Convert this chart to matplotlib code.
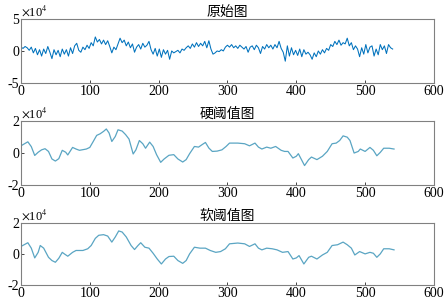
import numpy as np
import matplotlib
matplotlib.use('Agg')
import matplotlib.pyplot as plt

# original signal, read every 3 samples (units of 1e4)
raw_step = 3
raw_vals = [0.6, 0.4, 0.7, 0.5, 0.1, 0.6, -0.3, 0.4, -0.6, 0.2,
            -0.8, 0.3, -0.4, 0.7, -0.2, -1.2, 0.2, -0.6, 0.1, -0.9,
            0.3, -0.5, 0.2, -0.8, 0.5, -0.4, 0.8, 1.2, 0.1, -0.2,
            0.6, 0.2, 0.9, 0.4, 1.3, 0.8, 2.2, 1.4, 1.8, 1.1,
            1.7, 1.0, 1.6, 0.7, -0.3, 0.6, 0.2, 1.1, 2.0, 1.3,
            1.7, 0.8, 1.4, 0.5, 1.1, -0.2, 0.6, 1.0, 0.3, 1.2,
            0.6, 0.9, 1.5, 0.2, -0.5, 0.4, -0.8, 0.3, -1.0, 0.2,
            -0.5, 0.1, -1.3, 0.0, -0.3, -0.1, 0.1, -0.3, 0.3, 0.1,
            0.5, 0.8, 0.4, 1.1, 0.6, 1.3, 0.7, 1.2, 0.8, 1.5,
            0.5, 1.6, 0.3, -0.5, -0.3, 0.0, -0.1, 0.2, 0.0, 0.6,
            0.9, 0.6, 1.0, 0.5, 0.8, 0.4, 0.9, 0.6, 0.3, 0.7,
            -0.2, 0.6, 0.8, 0.2, 0.9, 0.5, -0.4, 0.7, 0.3, 1.0,
            0.5, 0.9, 0.3, 1.0, 0.5, 1.5, 0.4, -0.2, -1.6, 0.8,
            -0.8, 0.5, -0.6, 0.1, -0.7, 0.3, -0.9, 0.2, -0.5, -0.2,
            -0.6, -1.3, -0.3, -0.9, 0.0, -0.5, 0.2, -0.3, 0.4, 0.1,
            1.0, 0.7, 1.5, 1.0, 1.7, 0.9, 1.3, 1.1, 2.0, 0.8,
            1.3, 0.2, 0.8, 0.3, -0.9, 0.5, -0.5, 1.0, -0.3, 0.6,
            0.8, -0.8, 0.3, -0.6, 1.0, 0.2, 0.8, -0.4, 1.0, 0.5,
            0.3]

hard_x = [0, 10, 15, 20, 25, 30, 35, 40, 45, 50, 55, 60, 65, 68, 75, 80, 85, 95,
          100, 105, 110, 115, 120, 124, 128, 132, 137, 141, 147, 152, 157, 163,
          167, 172, 177, 181, 187, 192, 197, 203, 208, 215, 222, 228, 235, 240,
          245, 252, 258, 263, 268, 273, 278, 285, 292, 298, 303, 315, 325, 332,
          340, 345, 350, 357, 363, 370, 378, 383, 388, 395, 400, 403, 412, 418,
          422, 430, 438, 445, 452, 458, 463, 468, 474, 478, 484, 490, 493, 500,
          507, 512, 517, 522, 527, 535, 542]
hard_y = [0.45, 0.7, 0.4, -0.15, 0.05, 0.2, 0.27, 0.1, -0.37, -0.5, -0.35, 0.17,
          0.05, -0.12, 0.35, 0.25, 0.17, 0.25, 0.35, 0.72, 1.1, 1.2, 1.35, 1.5,
          1.25, 0.72, 1.03, 1.45, 1.37, 1.15, 0.87, -0.06, 0.2, 0.78, 0.58, 0.3,
          0.68, 0.41, -0.1, -0.58, -0.37, -0.14, -0.1, -0.37, -0.56, -0.41, -0.04,
          0.41, 0.37, 0.52, 0.66, 0.31, 0.1, 0.12, 0.2, 0.41, 0.62, 0.62, 0.58,
          0.45, 0.62, 0.37, 0.25, 0.37, 0.3, 0.41, 0.17, 0.1, 0.1, -0.31, -0.2,
          -0.04, -0.78, -0.41, -0.25, -0.41, -0.2, 0.1, 0.58, 0.62, 0.78, 1.07,
          0.99, 0.78, 0.0, 0.1, 0.25, 0.1, 0.35, 0.17, -0.17, 0.04, 0.3, 0.3, 0.25]

soft_x = [0, 10, 15, 20, 25, 28, 33, 40, 45, 50, 55, 60, 63, 68, 75, 80, 90, 97,
          102, 108, 113, 120, 126, 132, 137, 142, 147, 153, 160, 165, 170, 174,
          180, 186, 192, 198, 204, 210, 215, 222, 228, 235, 240, 245, 252, 260,
          268, 275, 283, 290, 297, 303, 315, 325, 332, 340, 345, 350, 357, 365,
          372, 380, 388, 395, 400, 404, 411, 418, 422, 430, 438, 445, 452, 460,
          468, 474, 480, 485, 492, 500, 507, 512, 517, 522, 527, 535, 542]
soft_y = [0.48, 0.72, 0.37, -0.26, 0.1, 0.54, 0.37, -0.22, -0.43, -0.54, -0.28,
          0.1, 0.0, -0.15, 0.1, 0.22, 0.22, 0.33, 0.54, 1.0, 1.2, 1.24, 1.15, 0.76,
          1.09, 1.48, 1.41, 1.09, 0.54, 0.28, 0.54, 0.72, 0.43, 0.37, 0.04, -0.33,
          -0.65, -0.33, -0.17, -0.15, -0.43, -0.61, -0.43, 0.0, 0.43, 0.37, 0.37,
          0.22, 0.1, 0.15, 0.33, 0.65, 0.7, 0.65, 0.48, 0.65, 0.37, 0.26, 0.37,
          0.33, 0.26, 0.1, 0.15, -0.33, -0.26, -0.11, -0.65, -0.22, -0.15, -0.33,
          -0.07, 0.1, 0.54, 0.59, 0.76, 0.59, 0.37, -0.07, 0.15, 0.0, 0.1, 0.04,
          -0.22, 0.0, 0.33, 0.33, 0.26]

titles = ['原始图', '硬阈值图', '软阈值图']
ylims = [(-5, 5), (-2, 2), (-2, 2)]
yticks = [[-5, 0, 5], [-2, 0, 2], [-2, 0, 2]]
xticks = [0, 100, 200, 300, 400, 500, 600]

plt.rcParams['font.family'] = ['Liberation Serif', 'Noto Sans CJK SC']
plt.rcParams['mathtext.fontset'] = 'stix'
plt.rcParams['axes.unicode_minus'] = False
plt.rcParams['font.size'] = 10

fig = plt.figure(figsize=(4.46, 3.07), dpi=100)
boxes = [[0.047, 0.730, 0.926, 0.208],
         [0.047, 0.397, 0.926, 0.209],
         [0.047, 0.072, 0.926, 0.202]]

raw_x = np.arange(len(raw_vals)) * raw_step
series = [(raw_x, raw_vals, '#0072BD', 0.75),
          (hard_x, hard_y, '#5AA5C3', 0.9),
          (soft_x, soft_y, '#5AA5C3', 0.9)]

for i, (box, (xs, ys, c, lw)) in enumerate(zip(boxes, series)):
    ax = fig.add_axes(box)
    ax.plot(xs, ys, color=c, lw=lw)
    ax.set_xlim(0, 600)
    ax.set_ylim(*ylims[i])
    ax.set_xticks(xticks)
    ax.set_yticks(yticks[i])
    ax.tick_params(direction='in', length=2.5, width=0.6, colors='#262626',
                   pad=1.5, labelcolor='black', labelsize=10)
    for s in ax.spines.values():
        s.set_color('#808080')
        s.set_linewidth(0.8)
    ax.set_title(titles[i], fontsize=10, pad=1.0,
                 family=['Noto Sans CJK SC', 'DejaVu Sans'])
    ax.text(0.0, 1.01, r'$\times$10$^4$', transform=ax.transAxes,
            fontsize=9, ha='left', va='bottom')

fig.savefig('out.png', dpi=100)
